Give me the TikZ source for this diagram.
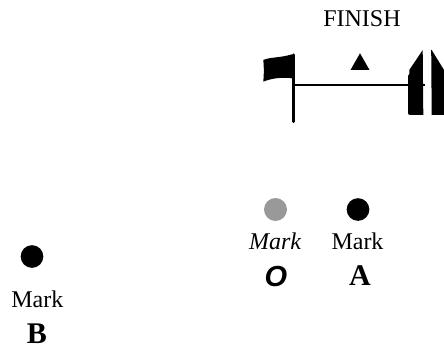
\documentclass[tikz,border=0pt]{standalone}
\usepackage{fontspec}
\setmainfont{Liberation Serif}
\newfontfamily\arialf{Liberation Sans}
\begin{document}
\begin{tikzpicture}[x=1pt,y=-1pt,
  lbl/.style={inner sep=0pt,anchor=base,font=\fontsize{24}{28}\selectfont},
  big/.style={inner sep=0pt,anchor=base,font=\fontsize{30}{34}\selectfont\bfseries},
  markdot/.style={circle,fill=black,inner sep=0pt,minimum size=23pt},
  solidfill/.style={fill=black,draw=none}]
\useasboundingbox (0,0) rectangle (444,350);
% FINISH label
\node[lbl] (finish) at (362,26.7) {FINISH};
% committee flag
\draw[line width=3.5pt,line cap=round] (293.7,55) coordinate (poletop) -- (293.7,121.5) coordinate (polebot);
\fill[solidfill] (263.3,60) .. controls (270,57) and (280,58) .. (292,54.3)
  -- (292,78.3) .. controls (283,77) and (272,78) .. (263.3,81.7)
  .. controls (264,74) and (264,67) .. (263.3,60) -- cycle;
% finish line
\coordinate (lineL) at (295,85);
\coordinate (lineR) at (425,85);
\draw[line width=2pt] (lineL) -- (lineR);
% triangle
\fill[solidfill] (360,53.3) coordinate (tri) -- (369.5,70) -- (350.5,70) -- cycle;
% boat pieces
\fill[solidfill] (422.7,50) -- (423.3,115) -- (410,115)
  .. controls (408.5,115) and (408,114) .. (408,112.5) -- (408,76) -- (409.3,74) -- (409.3,70) -- cycle;
\fill[solidfill] (431.2,50) -- (431.7,50) -- (444,70) -- (444,115) -- (431.7,115) -- cycle;
% marks
\node[markdot,fill=black!40] (dotO) at (275.5,209.5) {};
\node[markdot,minimum size=22.7pt] (dotA) at (358,209.5) {};
\node[markdot,minimum size=22.7pt] (dotB) at (32,256.5) {};
\node[lbl,font=\fontsize{24}{28}\selectfont\itshape] (markO) at (275,249) {Mark};
\node[lbl] (markA) at (357.5,249) {Mark};
\node[lbl] (markB) at (37.3,307.5) {Mark};
\node[inner sep=0pt,anchor=base,font=\fontsize{29}{33}\selectfont\arialf\bfseries\itshape] (labO) at (276,286.2) {O};
\node[big] (labA) at (360,285.7) {A};
\node[big] (labB) at (37,343.5) {B};
\end{tikzpicture}
\end{document}
